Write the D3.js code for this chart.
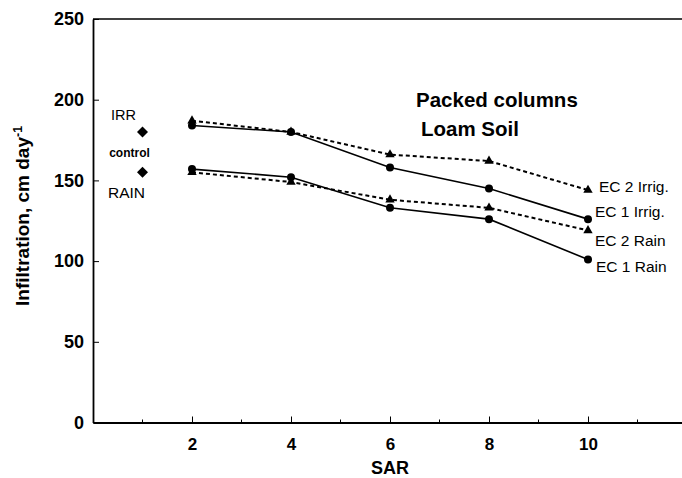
<!DOCTYPE html>
<html>
<head>
<meta charset="utf-8">
<script src="https://cdn.jsdelivr.net/npm/d3@7"></script>
<style>
  html, body { margin: 0; padding: 0; background: #fff; }
  svg { display: block; font-family: Arial, "Liberation Sans", Helvetica, sans-serif; }
</style>
</head>
<body>
<svg id="chart" width="682" height="478"></svg>
<script>
// SAR levels and infiltration rates (cm/day) for each treatment
const sar = [2, 4, 6, 8, 10];
const ec2Irrig = [187, 180, 166, 162, 144];
const ec1Irrig = [184, 180, 158, 145, 126];
const ec2Rain  = [155, 149, 138, 133, 119];
const ec1Rain  = [157, 152, 133, 126, 101];

// Control columns, plotted at SAR = 1
const controlSar = 1;
const controlIrr = 180;
const controlRain = 155;

const xTicks = [2, 4, 6, 8, 10];
const xMinorTicks = [1, 3, 5, 7, 9, 11];
const yTicks = [0, 50, 100, 150, 200, 250];

// End-of-line labels, nudged so they do not collide
const series = [
  { name: "EC 2 Irrig.", values: ec2Irrig, dashed: true,  marker: "triangle", dx: 11, dy: -3 },
  { name: "EC 1 Irrig.", values: ec1Irrig, dashed: false, marker: "circle",   dx: 7,  dy: -7 },
  { name: "EC 2 Rain",   values: ec2Rain,  dashed: true,  marker: "triangle", dx: 7,  dy: 11 },
  { name: "EC 1 Rain",   values: ec1Rain,  dashed: false, marker: "circle",   dx: 8,  dy: 8 }
];

const svg = d3.select("#chart");
const x = d3.scaleLinear().domain([0, 12]).range([93, 687]);
const y = d3.scaleLinear().domain([0, 250]).range([422.5, 19]);

// Top rule of the frame
svg.append("line").attr("x1", x(0)).attr("x2", 682).attr("y1", y(250)).attr("y2", y(250))
  .attr("stroke", "#000").attr("stroke-width", 1.5);

// X axis with ticks pointing up into the plot
const xAxis = svg.append("g").attr("transform", `translate(0,${y(0)})`)
  .call(d3.axisBottom(x).tickValues(xTicks).tickSizeInner(-6).tickSizeOuter(0).tickPadding(15));
xAxis.select(".domain").attr("stroke-width", 1.8);
xAxis.selectAll("text").attr("font-size", 17).attr("font-weight", "bold").attr("fill", "#000");
xAxis.selectAll(".minor").data(xMinorTicks).enter().append("line")
  .attr("x1", d => x(d)).attr("x2", d => x(d)).attr("y1", 0).attr("y2", -3)
  .attr("stroke", "#000");

// Y axis with ticks pointing right
const yAxis = svg.append("g").attr("transform", `translate(${x(0)},0)`)
  .call(d3.axisLeft(y).tickValues(yTicks).tickSizeInner(-6).tickSizeOuter(0).tickPadding(9));
yAxis.select(".domain").attr("stroke-width", 1.8);
yAxis.selectAll("text").attr("font-size", 18).attr("font-weight", "bold").attr("fill", "#000");

// Axis titles
svg.append("text").attr("x", x(6)).attr("y", 474).attr("text-anchor", "middle")
  .attr("font-size", 18).attr("font-weight", "bold").text("SAR");

const yTitle = svg.append("text")
  .attr("transform", `translate(29,${y(128)}) rotate(-90)`)
  .attr("text-anchor", "middle").attr("font-size", 19).attr("font-weight", "bold");
yTitle.append("tspan").text("Infiltration, cm day");
yTitle.append("tspan").attr("dy", -7).attr("font-size", 12.5).text("-1");

// Plot title
svg.append("text").attr("x", 416).attr("y", 107).attr("font-size", 20.5).attr("font-weight", "bold")
  .text("Packed columns");
svg.append("text").attr("x", 421).attr("y", 136).attr("font-size", 20.5).attr("font-weight", "bold")
  .text("Loam Soil");

// Treatment lines and markers
const line = d3.line().x((d, i) => x(sar[i])).y(d => y(d));
const tri = d3.symbol().type(d3.symbolTriangle).size(38);

series.forEach(s => {
  svg.append("path").datum(s.values).attr("d", line)
    .attr("fill", "none").attr("stroke", "#000").attr("stroke-width", s.dashed ? 2 : 1.6)
    .attr("stroke-dasharray", s.dashed ? "4,3" : null);
  const g = svg.append("g");
  if (s.marker === "circle") {
    g.selectAll("circle").data(s.values).enter().append("circle")
      .attr("cx", (d, i) => x(sar[i])).attr("cy", d => y(d)).attr("r", 4).attr("fill", "#000");
  } else {
    g.selectAll("path").data(s.values).enter().append("path")
      .attr("d", tri).attr("transform", (d, i) => `translate(${x(sar[i])},${y(d)})`).attr("fill", "#000");
  }
  svg.append("text").attr("x", x(10) + s.dx).attr("y", y(s.values[s.values.length - 1]) + 5 + s.dy)
    .attr("font-size", 15.5).text(s.name);
});

// Control markers (square diamonds) with labels
const half = 5.5;
const diamondPath = `M0,${-half}L${half},0L0,${half}L${-half},0Z`;
[controlIrr, controlRain].forEach(v => {
  svg.append("path").attr("d", diamondPath)
    .attr("transform", `translate(${x(controlSar)},${y(v)})`).attr("fill", "#000");
});
svg.append("text").attr("x", x(controlSar) - 19).attr("y", y(controlIrr) - 12).attr("text-anchor", "middle")
  .attr("font-size", 14.5).text("IRR");
svg.append("text").attr("x", x(controlSar) - 13).attr("y", (y(controlIrr) + y(controlRain)) / 2 + 5).attr("text-anchor", "middle")
  .attr("font-size", 12).attr("font-weight", "bold").text("control");
svg.append("text").attr("x", x(controlSar) - 16).attr("y", y(controlRain) + 26).attr("text-anchor", "middle")
  .attr("font-size", 15.5).text("RAIN");
</script>
</body>
</html>
